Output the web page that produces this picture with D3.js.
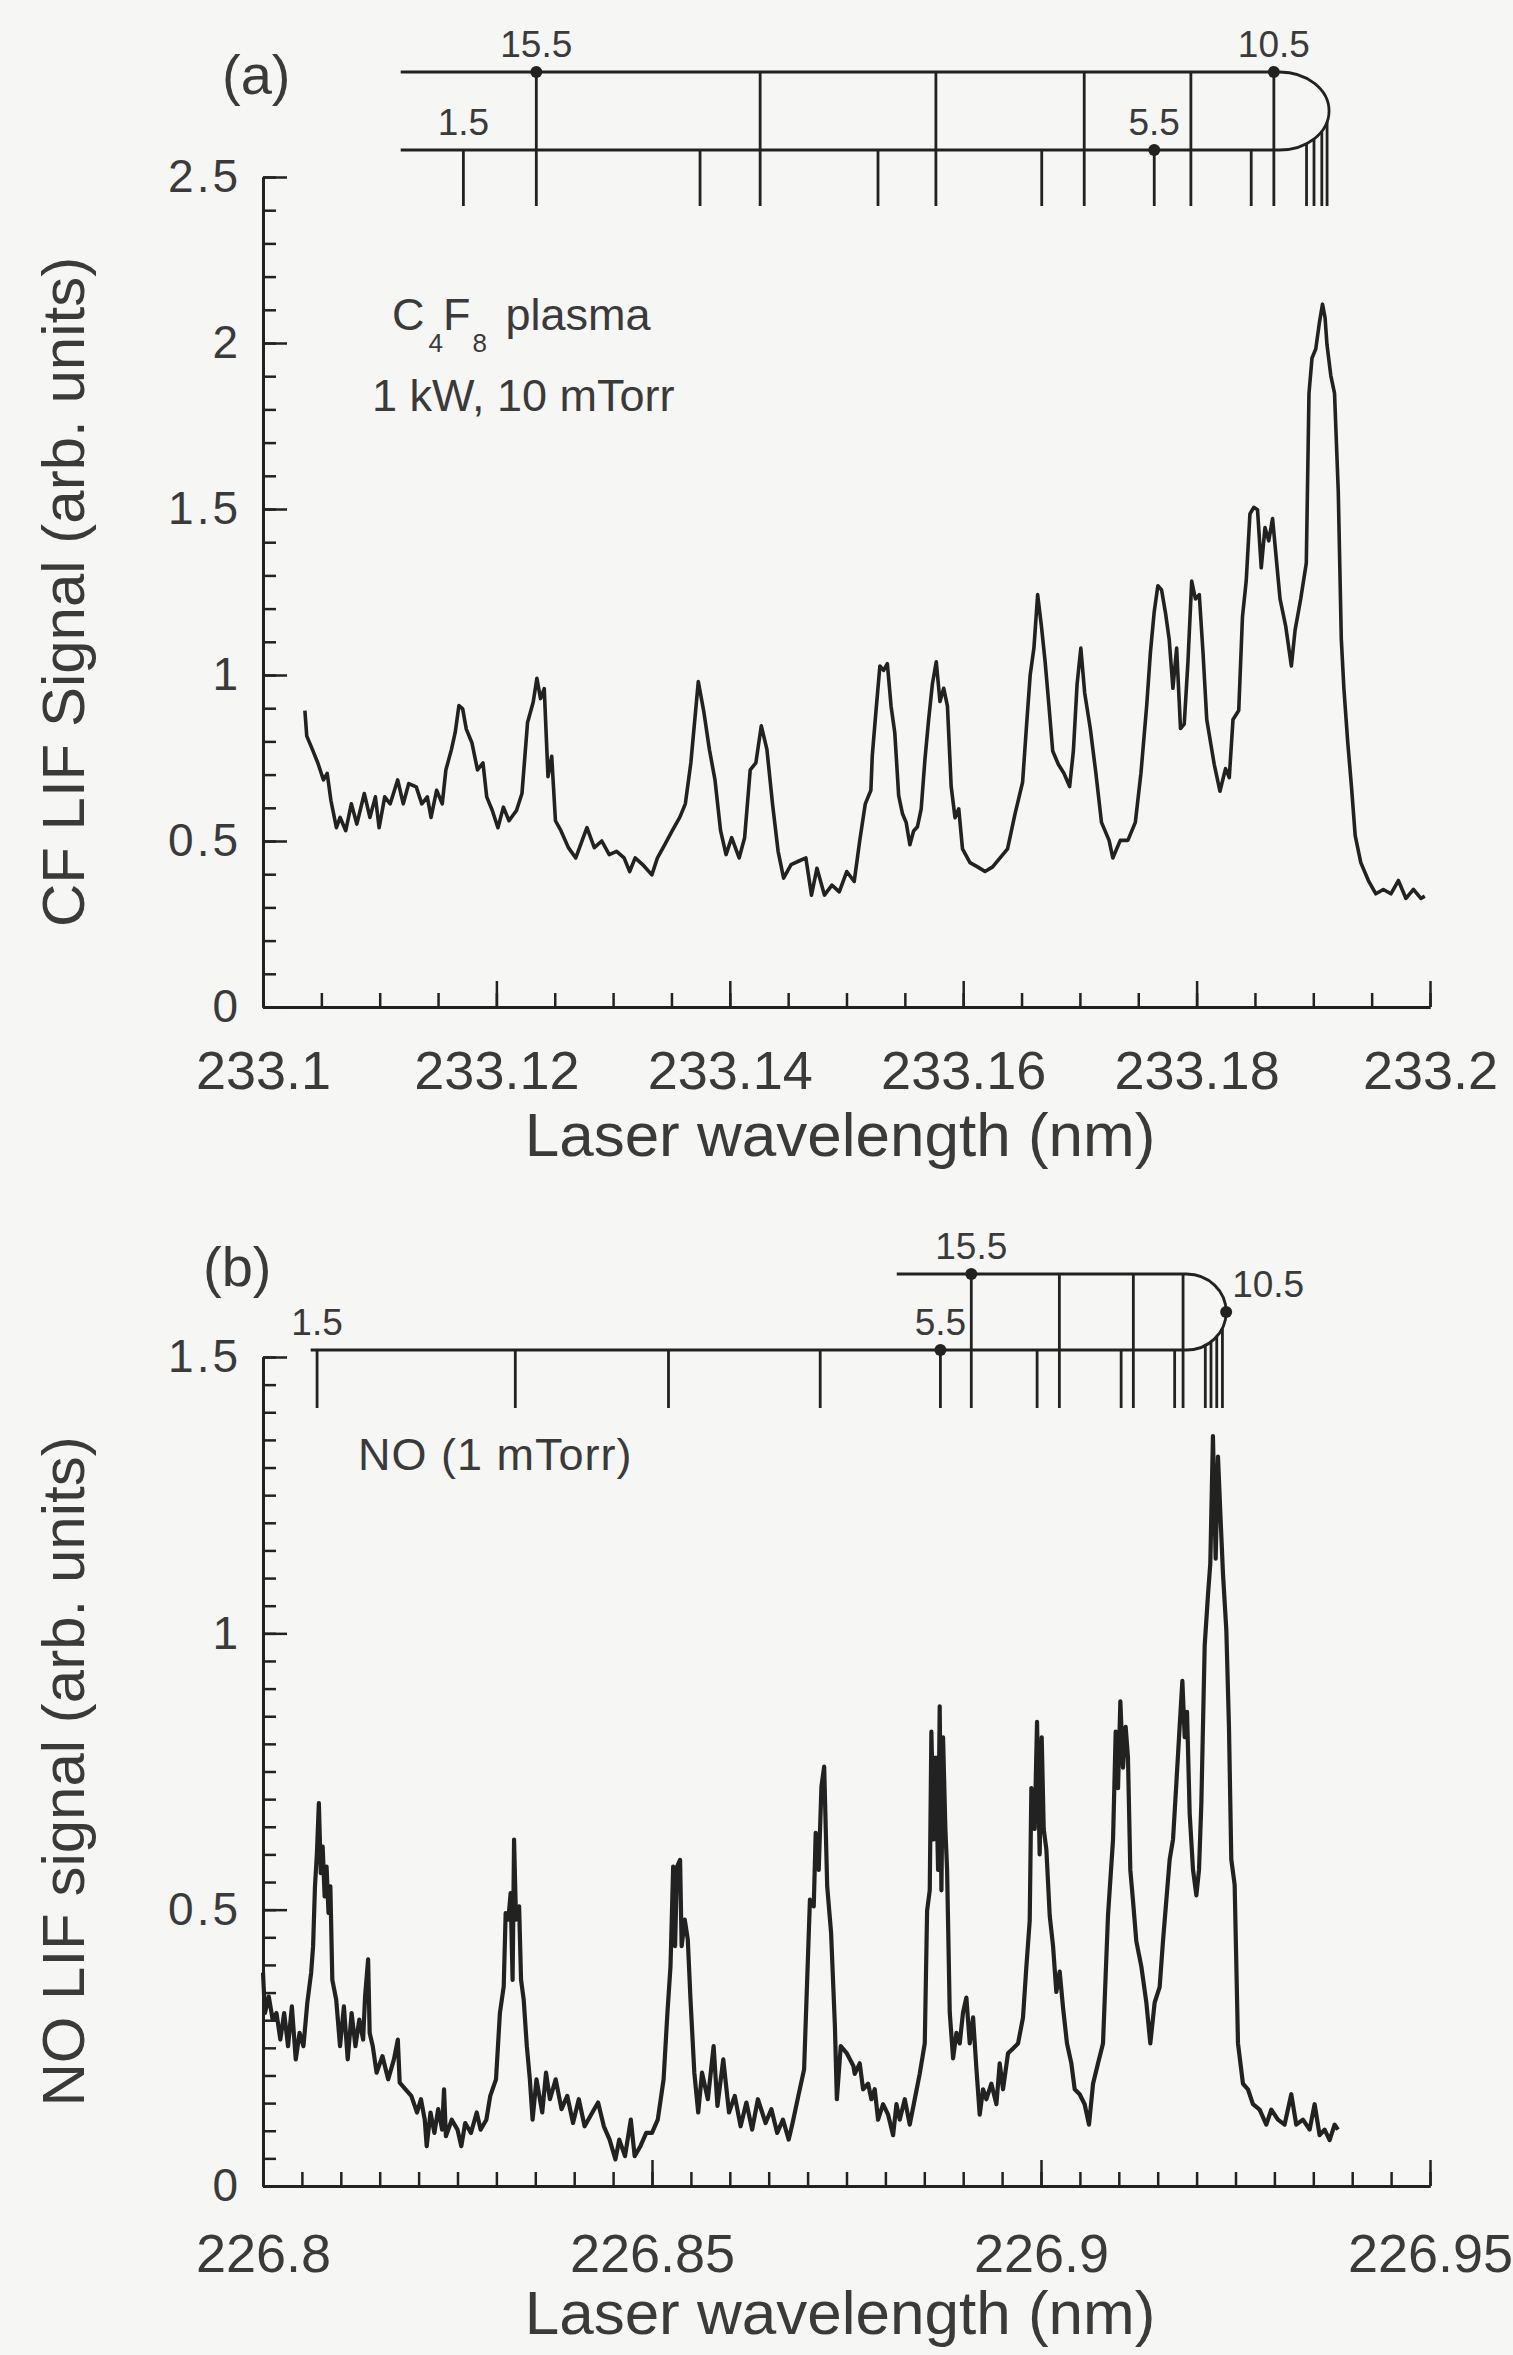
<!DOCTYPE html>
<html>
<head>
<meta charset="utf-8">
<script src="https://cdn.jsdelivr.net/npm/d3@7"></script>
<style>
  body { margin: 0; background: #f6f6f4; }
</style>
</head>
<body>
<script>

// ==== Data: (a) CF LIF spectrum, C4F8 plasma ====

var cfWavelength = [
  233.10359, 233.10375, 233.10423, 233.10470, 233.10518, 233.10550, 233.10582, 233.10629, 233.10661, 233.10709,
  233.10757, 233.10804, 233.10868, 233.10916, 233.10963, 233.10995, 233.11043, 233.11090, 233.11154, 233.11202,
  233.11249, 233.11313, 233.11361, 233.11408, 233.11440, 233.11488, 233.11536, 233.11567, 233.11615, 233.11647,
  233.11679, 233.11711, 233.11742, 233.11790, 233.11838, 233.11885, 233.11917, 233.11965, 233.12013, 233.12060,
  233.12108, 233.12172, 233.12219, 233.12267, 233.12315, 233.12347, 233.12378, 233.12410, 233.12442, 233.12474,
  233.12506, 233.12553, 233.12617, 233.12680, 233.12744, 233.12776, 233.12839, 233.12903, 233.12967, 233.13030,
  233.13094, 233.13142, 233.13189, 233.13253, 233.13332, 233.13380, 233.13444, 233.13507, 233.13571, 233.13619,
  233.13666, 233.13730, 233.13778, 233.13825, 233.13873, 233.13921, 233.13968, 233.14016, 233.14080, 233.14127,
  233.14175, 233.14223, 233.14270, 233.14318, 233.14366, 233.14414, 233.14461, 233.14525, 233.14588, 233.14652,
  233.14700, 233.14747, 233.14811, 233.14875, 233.14938, 233.15002, 233.15066, 233.15113, 233.15161, 233.15209,
  233.15221, 233.15253, 233.15286, 233.15318, 233.15350, 233.15382, 233.15414, 233.15447, 233.15479, 233.15511,
  233.15543, 233.15575, 233.15608, 233.15640, 233.15672, 233.15704, 233.15736, 233.15769, 233.15801, 233.15833,
  233.15865, 233.15897, 233.15930, 233.15962, 233.15994, 233.16058, 233.16123, 233.16187, 233.16252, 233.16316,
  233.16380, 233.16445, 233.16509, 233.16541, 233.16574, 233.16606, 233.16638, 233.16670, 233.16702, 233.16735,
  233.16767, 233.16815, 233.16863, 233.16912, 233.16944, 233.16976, 233.17008, 233.17041, 233.17089, 233.17137,
  233.17185, 233.17250, 233.17282, 233.17346, 233.17411, 233.17475, 233.17523, 233.17572, 233.17604, 233.17636,
  233.17668, 233.17700, 233.17733, 233.17765, 233.17797, 233.17829, 233.17862, 233.17894, 233.17926, 233.17958,
  233.17990, 233.18023, 233.18055, 233.18087, 233.18119, 233.18151, 233.18200, 233.18248, 233.18280, 233.18312,
  233.18361, 233.18393, 233.18425, 233.18457, 233.18490, 233.18522, 233.18554, 233.18586, 233.18618, 233.18651,
  233.18683, 233.18715, 233.18763, 233.18812, 233.18844, 233.18892, 233.18940, 233.18963, 233.18989, 233.19021,
  233.19053, 233.19079, 233.19101, 233.19117, 233.19150, 233.19182, 233.19214, 233.19240, 233.19262, 233.19295,
  233.19327, 233.19359, 233.19407, 233.19472, 233.19536, 233.19600, 233.19665, 233.19729, 233.19794, 233.19858,
  233.19922, 233.19955
];

var cfSignal = [
  0.893, 0.816, 0.776, 0.735, 0.684, 0.704, 0.622, 0.540, 0.571, 0.531,
  0.612, 0.551, 0.643, 0.571, 0.633, 0.540, 0.633, 0.612, 0.684, 0.612,
  0.673, 0.663, 0.612, 0.633, 0.571, 0.653, 0.612, 0.714, 0.776, 0.827,
  0.908, 0.898, 0.837, 0.796, 0.714, 0.735, 0.633, 0.592, 0.540, 0.602,
  0.561, 0.592, 0.643, 0.857, 0.918, 0.990, 0.929, 0.959, 0.694, 0.755,
  0.561, 0.531, 0.480, 0.449, 0.510, 0.540, 0.480, 0.500, 0.459, 0.469,
  0.449, 0.408, 0.449, 0.429, 0.398, 0.449, 0.490, 0.531, 0.571, 0.612,
  0.735, 0.980, 0.888, 0.776, 0.684, 0.531, 0.459, 0.510, 0.449, 0.510,
  0.714, 0.735, 0.847, 0.776, 0.612, 0.469, 0.388, 0.429, 0.439, 0.449,
  0.337, 0.418, 0.337, 0.367, 0.347, 0.408, 0.378, 0.500, 0.612, 0.653,
  0.758, 0.893, 1.027, 1.014, 1.034, 0.906, 0.825, 0.637, 0.583, 0.556,
  0.489, 0.530, 0.543, 0.597, 0.745, 0.866, 0.973, 1.040, 0.920, 0.960,
  0.906, 0.664, 0.570, 0.597, 0.476, 0.435, 0.422, 0.408, 0.422, 0.449,
  0.476, 0.583, 0.677, 0.839, 1.000, 1.081, 1.242, 1.148, 1.040, 0.906,
  0.771, 0.731, 0.704, 0.664, 0.771, 0.973, 1.081, 0.946, 0.839, 0.704,
  0.556, 0.502, 0.449, 0.502, 0.502, 0.556, 0.704, 0.906, 1.067, 1.188,
  1.269, 1.256, 1.188, 1.108, 0.960, 1.081, 0.839, 0.852, 1.040, 1.283,
  1.229, 1.242, 1.067, 0.866, 0.798, 0.731, 0.650, 0.718, 0.691, 0.866,
  0.893, 1.175, 1.283, 1.485, 1.505, 1.498, 1.323, 1.444, 1.404, 1.471,
  1.350, 1.229, 1.148, 1.027, 1.135, 1.229, 1.337, 1.848, 1.955, 1.982,
  2.063, 2.117, 2.076, 1.996, 1.902, 1.848, 1.552, 1.108, 0.960, 0.798,
  0.664, 0.516, 0.435, 0.381, 0.341, 0.354, 0.341, 0.381, 0.327, 0.354,
  0.327, 0.334
];

// rotational line positions for (a)
var cfUpperLines = [233.12342, 233.14260, 233.15766, 233.17037, 233.17951, 233.18662];
var cfLowerLines = [233.11717, 233.13745, 233.15270, 233.16673, 233.17637, 233.18468];
var cfHeadLines = [233.18942, 233.19006, 233.19073, 233.19118];
var cfBranch = {upperStart: 233.1118, lowerStart: 233.1118, turn: 233.1871, edge: 233.19135};
var cfLabelText = ["15.5", "10.5", "1.5", "5.5"];
var cfLabelAt = [233.12342, 233.18662, 233.11717, 233.17637];
var cfLabelBranch = ["upper", "upper", "lower", "lower"];
var cfLabelDot = [true, true, false, true];

var cfXTicks = [233.1, 233.12, 233.14, 233.16, 233.18, 233.2];
var cfYTicks = [0, 0.5, 1, 1.5, 2, 2.5];


// ==== Data: (b) NO LIF spectrum, 1 mTorr ====

var noWavelength = [
  226.80000, 226.80025, 226.80074, 226.80124, 226.80173, 226.80223, 226.80272, 226.80322, 226.80371, 226.80421,
  226.80470, 226.80520, 226.80569, 226.80619, 226.80644, 226.80668, 226.80693, 226.80718, 226.80743, 226.80767,
  226.80792, 226.80817, 226.80842, 226.80866, 226.80891, 226.80941, 226.80990, 226.81040, 226.81089, 226.81139,
  226.81188, 226.81238, 226.81287, 226.81312, 226.81351, 226.81371, 226.81411, 226.81460, 226.81535, 226.81609,
  226.81683, 226.81733, 226.81757, 226.81832, 226.81906, 226.81980, 226.82030, 226.82079, 226.82104, 226.82153,
  226.82203, 226.82252, 226.82302, 226.82327, 226.82351, 226.82426, 226.82500, 226.82549, 226.82599, 226.82673,
  226.82747, 226.82797, 226.82871, 226.82921, 226.82995, 226.83045, 226.83094, 226.83119, 226.83153, 226.83183,
  226.83208, 226.83227, 226.83252, 226.83292, 226.83317, 226.83351, 226.83391, 226.83430, 226.83465, 226.83515,
  226.83589, 226.83638, 226.83688, 226.83762, 226.83837, 226.83911, 226.83985, 226.84059, 226.84134, 226.84233,
  226.84307, 226.84381, 226.84455, 226.84530, 226.84579, 226.84653, 226.84728, 226.84777, 226.84851, 226.84926,
  226.85000, 226.85074, 226.85149, 226.85198, 226.85238, 226.85272, 226.85297, 226.85322, 226.85361, 226.85381,
  226.85421, 226.85460, 226.85495, 226.85544, 226.85594, 226.85643, 226.85718, 226.85792, 226.85841, 226.85916,
  226.85990, 226.86064, 226.86139, 226.86213, 226.86287, 226.86361, 226.86460, 226.86535, 226.86609, 226.86683,
  226.86757, 226.86807, 226.86881, 226.86955, 226.87030, 226.87079, 226.87104, 226.87143, 226.87178, 226.87213,
  226.87252, 226.87302, 226.87351, 226.87376, 226.87426, 226.87500, 226.87589,
  226.87606, 226.87670, 226.87713, 226.87778, 226.87820, 226.87863, 226.87906, 226.87970, 226.88035, 226.88099,
  226.88142, 226.88184, 226.88249, 226.88313, 226.88377, 226.88441, 226.88506, 226.88536, 226.88570, 226.88591,
  226.88621, 226.88647, 226.88677, 226.88698, 226.88720, 226.88741, 226.88771, 226.88793, 226.88827, 226.88870,
  226.88913, 226.88955, 226.88998, 226.89041, 226.89084, 226.89127, 226.89170, 226.89212, 226.89255, 226.89298,
  226.89362, 226.89427, 226.89469, 226.89512, 226.89576, 226.89641, 226.89705, 226.89769, 226.89812, 226.89855,
  226.89876, 226.89919, 226.89949, 226.89983, 226.90009, 226.90035, 226.90069, 226.90112, 226.90155, 226.90197,
  226.90240, 226.90283, 226.90334, 226.90390, 226.90433, 226.90497, 226.90561, 226.90617, 226.90669, 226.90733,
  226.90797, 226.90861, 226.90926, 226.90960, 226.90990, 226.91020, 226.91054, 226.91088, 226.91118, 226.91148,
  226.91182, 226.91225, 226.91290, 226.91354, 226.91405, 226.91461, 226.91525, 226.91568, 226.91611, 226.91654,
  226.91697, 226.91740, 226.91782, 226.91817, 226.91847, 226.91877, 226.91911, 226.91954, 226.91997, 226.92031,
  226.92061, 226.92104, 226.92147, 226.92176, 226.92210, 226.92245, 226.92275, 226.92305, 226.92339, 226.92382,
  226.92416, 226.92446, 226.92489, 226.92532, 226.92596, 226.92660, 226.92724, 226.92810, 226.92896, 226.92960,
  226.93046, 226.93131, 226.93217, 226.93281, 226.93367, 226.93453, 226.93517, 226.93581, 226.93645, 226.93710,
  226.93774, 226.93817
];

var noSignal = [
  0.386, 0.313, 0.343, 0.301, 0.313, 0.265, 0.313, 0.253, 0.325, 0.229,
  0.277, 0.253, 0.331, 0.386, 0.434, 0.542, 0.602, 0.693, 0.566, 0.614,
  0.524, 0.578, 0.494, 0.542, 0.373, 0.337, 0.253, 0.325, 0.229, 0.313,
  0.253, 0.301, 0.265, 0.343, 0.410, 0.277, 0.253, 0.205, 0.235, 0.193,
  0.229, 0.265, 0.187, 0.175, 0.163, 0.133, 0.157, 0.120, 0.072, 0.133,
  0.096, 0.139, 0.102, 0.175, 0.090, 0.120, 0.102, 0.072, 0.114, 0.096,
  0.133, 0.102, 0.120, 0.163, 0.193, 0.313, 0.361, 0.494, 0.482, 0.530,
  0.373, 0.627, 0.482, 0.506, 0.373, 0.337, 0.253, 0.193, 0.120, 0.193,
  0.133, 0.205, 0.157, 0.193, 0.139, 0.163, 0.114, 0.157, 0.108, 0.133,
  0.151, 0.108, 0.084, 0.048, 0.084, 0.054, 0.120, 0.054, 0.072, 0.096,
  0.096, 0.120, 0.193, 0.313, 0.398, 0.578, 0.434, 0.578, 0.590, 0.434,
  0.482, 0.446, 0.337, 0.205, 0.133, 0.205, 0.157, 0.253, 0.145, 0.229,
  0.133, 0.163, 0.108, 0.151, 0.102, 0.157, 0.114, 0.139, 0.096, 0.120,
  0.084, 0.114, 0.163, 0.211, 0.518, 0.506, 0.639, 0.572, 0.723, 0.759,
  0.542, 0.458, 0.289, 0.157, 0.253, 0.241, 0.217,
  0.203, 0.222, 0.175, 0.185, 0.157, 0.175, 0.120, 0.148, 0.129, 0.092,
  0.148, 0.120, 0.157, 0.111, 0.157, 0.203, 0.258, 0.498, 0.535, 0.822,
  0.627, 0.775, 0.572, 0.868, 0.535, 0.812, 0.646, 0.572, 0.314, 0.231,
  0.277, 0.258, 0.314, 0.341, 0.258, 0.305, 0.212, 0.129, 0.175, 0.157,
  0.185, 0.148, 0.222, 0.175, 0.240, 0.249, 0.258, 0.305, 0.397, 0.480,
  0.720, 0.646, 0.840, 0.600, 0.812, 0.646, 0.609, 0.489, 0.434, 0.351,
  0.388, 0.323, 0.258, 0.222, 0.175, 0.166, 0.148, 0.111, 0.185, 0.222,
  0.258, 0.489, 0.627, 0.822, 0.720, 0.877, 0.757, 0.831, 0.775, 0.572,
  0.517, 0.443, 0.397, 0.332, 0.258, 0.332, 0.360, 0.443, 0.517, 0.591,
  0.627, 0.729, 0.831, 0.914, 0.812, 0.858, 0.674, 0.572, 0.526, 0.572,
  0.692, 0.978, 1.071, 1.126, 1.357, 1.135, 1.320, 1.218, 1.108, 1.006,
  0.831, 0.591, 0.545, 0.258, 0.185, 0.175, 0.148, 0.138, 0.111, 0.138,
  0.120, 0.111, 0.166, 0.111, 0.120, 0.102, 0.148, 0.092, 0.102, 0.083,
  0.111, 0.102
];

// rotational line positions for (b)
var noUpperLines = [226.89104, 226.90236, 226.91187, 226.91826];
var noLowerLines = [226.80695, 226.83243, 226.85212, 226.87162, 226.88707, 226.89950, 226.91030, 226.91718];
var noHeadLines = [226.92112, 226.92185, 226.92259, 226.92332];
var noBranch = {upperStart: 226.88146, lowerStart: 226.80613, turn: 226.9187, edge: 226.9238};
var noLabelText = ["15.5", "5.5", "1.5", "10.5"];
var noLabelAt = [226.89104, 226.88707, 226.80695, 226.9238];
var noLabelBranch = ["upper", "lower", "lower", "head"];
var noLabelDot = [true, true, false, true];

var noXTicks = [226.8, 226.85, 226.9, 226.95];
var noYTicks = [0, 0.5, 1, 1.5];


// --- Canvas ---
var width = 1513,
    height = 2355;

var font = '"Liberation Sans", Arial, Helvetica, sans-serif',
    ink = "#222222",
    textInk = "#3a3a3a";

var svg = d3.select("body")
    .append("svg")
    .attr("width", width)
    .attr("height", height)
    .style("background", "#f6f6f4");


function drawPanel(p) {

    var x = d3.scaleLinear()
        .domain([p.xTicks[0], p.xTicks[p.xTicks.length - 1]])
        .range([263, 1430]);

    var y = d3.scaleLinear()
        .domain([0, p.yTicks[p.yTicks.length - 1]])
        .range([p.bottom, p.top]);

    var g = svg.append("g");

    // ==== Axes (ticks point inward) ====
    var xMinor = g.append("g")
        .attr("transform", "translate(0," + p.bottom + ")")
        .call(d3.axisBottom(x).tickValues(p.xMinor).tickSize(-14).tickSizeOuter(0).tickFormat(""));

    var xMajor = g.append("g")
        .attr("transform", "translate(0," + p.bottom + ")")
        .call(d3.axisBottom(x).tickValues(p.xTicks).tickSize(-26).tickSizeOuter(0)
            .tickPadding(p.xPad).tickFormat(function(d) { return String(d); }));

    var yMinor = g.append("g")
        .attr("transform", "translate(263,0)")
        .call(d3.axisLeft(y).tickValues(p.yMinor).tickSize(-13).tickSizeOuter(0).tickFormat(""));

    var yMajor = g.append("g")
        .attr("transform", "translate(263,0)")
        .call(d3.axisLeft(y).tickValues(p.yTicks).tickSize(-24).tickSizeOuter(0)
            .tickPadding(22).tickFormat(function(d) { return String(d); }));

    [xMinor, xMajor, yMinor, yMajor].forEach(function(ax) {
        ax.selectAll("path.domain").attr("stroke", ink).attr("stroke-width", 3);
        ax.selectAll(".tick line").attr("stroke", ink).attr("stroke-width", 2.5);
    });

    xMajor.selectAll("text")
        .attr("font-family", font)
        .attr("font-size", "54px")
        .attr("fill", textInk);

    yMajor.selectAll("text")
        .attr("font-family", font)
        .attr("font-size", "46px")
        .attr("letter-spacing", "3px")
        .attr("fill", textInk);

    // ==== Axis titles ====
    g.append("text")
        .text("Laser wavelength (nm)")
        .attr("x", 840)
        .attr("y", p.xTitleY)
        .attr("text-anchor", "middle")
        .attr("font-family", font)
        .attr("font-size", "62px")
        .attr("fill", textInk);

    g.append("text")
        .text(p.yTitle)
        .attr("transform", "translate(84," + ((p.top + p.bottom) / 2) + ") rotate(-90)")
        .attr("text-anchor", "middle")
        .attr("font-family", font)
        .attr("font-size", "60px")
        .attr("fill", textInk);

    // ==== Spectrum ====
    var line = d3.line()
        .x(function(d) { return x(d[0]); })
        .y(function(d) { return y(d[1]); });

    g.append("path")
        .datum(d3.zip(p.wavelength, p.signal))
        .attr("d", line)
        .attr("fill", "none")
        .attr("stroke", ink)
        .attr("stroke-width", p.traceWidth)
        .attr("stroke-linejoin", "round");

    // ==== Rotational branch diagram ====
    var yU = p.yUpper,
        yL = p.yLower,
        yB = p.yTickEnd,
        xt = x(p.branch.turn),
        xe = x(p.branch.edge),
        rx = xe - xt,
        ry = (yL - yU) / 2,
        cy = yU + ry;

    g.append("path")
        .attr("d", "M" + x(p.branch.upperStart) + "," + yU + "H" + xt +
            "A" + rx + "," + ry + " 0 0 1 " + xe + "," + cy +
            "A" + rx + "," + ry + " 0 0 1 " + xt + "," + yL +
            "H" + x(p.branch.lowerStart))
        .attr("fill", "none")
        .attr("stroke", ink)
        .attr("stroke-width", 2.8);

    function arcY(v) {
        var k = (x(v) - xt) / rx;
        if (k <= 0) return yL;
        return cy + ry * Math.sqrt(Math.max(0, 1 - k * k));
    }

    var sticks = [];
    p.upperLines.forEach(function(v) { sticks.push([v, yU]); });
    p.lowerLines.forEach(function(v) { sticks.push([v, yL]); });
    p.headLines.forEach(function(v) { sticks.push([v, arcY(v)]); });

    g.append("g").selectAll("line")
        .data(sticks)
        .join("line")
        .attr("x1", function(d) { return x(d[0]); })
        .attr("x2", function(d) { return x(d[0]); })
        .attr("y1", function(d) { return d[1]; })
        .attr("y2", yB)
        .attr("stroke", ink)
        .attr("stroke-width", 2.8);

    var labels = d3.range(p.labelText.length).map(function(i) {
        var b = p.labelBranch[i];
        return {
            text: p.labelText[i],
            x: x(p.labelAt[i]),
            y: b == "upper" ? yU : (b == "lower" ? yL : cy),
            branch: b,
            dot: p.labelDot[i]
        };
    });

    g.append("g").selectAll("circle")
        .data(labels.filter(function(d) { return d.dot; }))
        .join("circle")
        .attr("cx", function(d) { return d.x; })
        .attr("cy", function(d) { return d.y; })
        .attr("r", 6)
        .attr("fill", ink);

    g.append("g").selectAll("text")
        .data(labels)
        .join("text")
        .text(function(d) { return d.text; })
        .attr("x", function(d) { return d.branch == "head" ? d.x + 6 : d.x; })
        .attr("y", function(d) { return d.y - 15; })
        .attr("text-anchor", function(d) { return d.branch == "head" ? "start" : "middle"; })
        .attr("font-family", font)
        .attr("font-size", "37px")
        .attr("fill", textInk);

    // ==== Panel letter ====
    g.append("text")
        .text(p.letter)
        .attr("x", p.letterX)
        .attr("y", p.letterY)
        .attr("font-family", font)
        .attr("font-size", "56px")
        .attr("fill", textInk);

    return g;
}


// --- Panel (a) ---
var ga = drawPanel({
    wavelength: cfWavelength, signal: cfSignal,
    xTicks: cfXTicks, yTicks: cfYTicks,
    xMinor: d3.range(233.1, 233.2001, 0.005), yMinor: d3.range(0, 2.501, 0.1),
    top: 177, bottom: 1007, xPad: 44, xTitleY: 1156,
    yTitle: "CF LIF Signal (arb. units)",
    traceWidth: 3.6,
    upperLines: cfUpperLines, lowerLines: cfLowerLines, headLines: cfHeadLines,
    branch: cfBranch, yUpper: 72, yLower: 150, yTickEnd: 206,
    labelText: cfLabelText, labelAt: cfLabelAt, labelBranch: cfLabelBranch, labelDot: cfLabelDot,
    letter: "(a)", letterX: 222, letterY: 94
});

var noteA = ga.append("text")
    .attr("x", 392)
    .attr("y", 330)
    .attr("font-family", font)
    .attr("font-size", "45px")
    .attr("fill", textInk);
noteA.append("tspan").text("C");
noteA.append("tspan").text("4").attr("font-size", "26px").attr("dx", 4).attr("dy", 22);
noteA.append("tspan").text("F").attr("dx", 0).attr("dy", -22);
noteA.append("tspan").text("8").attr("font-size", "26px").attr("dx", 2).attr("dy", 22);
noteA.append("tspan").text(" plasma").attr("dx", 6).attr("dy", -22);

ga.append("text")
    .text("1 kW, 10 mTorr")
    .attr("x", 372)
    .attr("y", 411)
    .attr("font-family", font)
    .attr("font-size", "45px")
    .attr("fill", textInk);


// --- Panel (b) ---
var gb = drawPanel({
    wavelength: noWavelength, signal: noSignal,
    xTicks: noXTicks, yTicks: noYTicks,
    xMinor: d3.range(226.8, 226.9501, 0.005), yMinor: d3.range(0, 1.501, 0.05),
    top: 1357, bottom: 2186, xPad: 48, xTitleY: 2334,
    yTitle: "NO LIF signal (arb. units)",
    traceWidth: 4.2,
    upperLines: noUpperLines, lowerLines: noLowerLines, headLines: noHeadLines,
    branch: noBranch, yUpper: 1274, yLower: 1350, yTickEnd: 1408,
    labelText: noLabelText, labelAt: noLabelAt, labelBranch: noLabelBranch, labelDot: noLabelDot,
    letter: "(b)", letterX: 203, letterY: 1286
});

gb.append("text")
    .text("NO (1 mTorr)")
    .attr("x", 358)
    .attr("y", 1470)
    .attr("font-family", font)
    .attr("font-size", "45px")
    .attr("letter-spacing", "1px")
    .attr("fill", textInk);

</script>
</body>
</html>
